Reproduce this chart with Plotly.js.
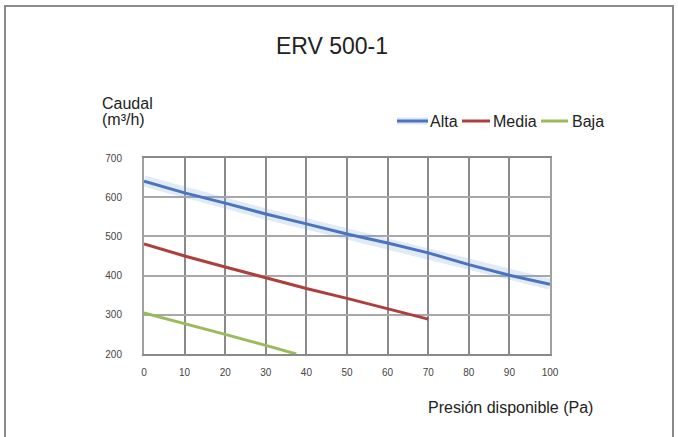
<!DOCTYPE html>
<html>
<head>
<meta charset="utf-8">
<script src="https://cdn.plot.ly/plotly-3.0.1.min.js"></script>
<style>
  html, body { margin: 0; padding: 0; background: #fff; overflow: hidden; }
  #frame { position: absolute; left: 4px; top: 5px; width: 666px; height: 500px;
           border: 2px solid #8a8a8a; pointer-events: none; z-index: 5; }
  #chart { position: absolute; left: 0; top: 0; width: 678px; height: 437px; }
</style>
</head>
<body>
<div id="chart"></div>
<div id="frame"></div>
<script>
// Presión disponible (Pa) vs Caudal (m³/h)
const pressureAlta  = [0, 10, 20, 30, 40, 50, 60, 70, 80, 90, 100];
const caudalAlta    = [641, 611, 585, 557, 532, 506, 483, 458, 428, 401, 378];
const pressureMedia = [0, 10, 20, 30, 40, 50, 60, 70];
const caudalMedia   = [481, 450, 422, 394, 367, 342, 316, 289];
const pressureBaja  = [0, 10, 20, 30, 37.5];
const caudalBaja    = [305, 278, 250, 222, 200];
const xTicks = [0, 10, 20, 30, 40, 50, 60, 70, 80, 90, 100];
const yTicks = [200, 300, 400, 500, 600, 700];
const seriesNames  = ['Alta', 'Media', 'Baja'];
const seriesColors = ['#4a74bd', '#ad3f3c', '#9bbb59'];

const FONT = '"Liberation Sans", Arial, sans-serif';

// plot area in pixels
const PL = 144, PR = 550, PT = 158, PB = 354;
const px = v => (v - PL) / (PR - PL);
const py = v => (PB - v) / (PB - PT);

const traces = [
  { x: pressureAlta, y: caudalAlta, mode: 'lines', showlegend: false, hoverinfo: 'skip',
    line: { color: 'rgba(120,160,220,0.22)', width: 11 } },
  { x: pressureAlta, y: caudalAlta, mode: 'lines', name: seriesNames[0],
    line: { color: seriesColors[0], width: 3 } },
  { x: pressureMedia, y: caudalMedia, mode: 'lines', name: seriesNames[1],
    line: { color: seriesColors[1], width: 3 } },
  { x: pressureBaja, y: caudalBaja, mode: 'lines', name: seriesNames[2],
    line: { color: seriesColors[2], width: 3 } }
];

// manual legend (keys + labels)
const legendKeys = [[397, 428, 430], [462, 490, 493], [541, 568, 572]];
const legendY = py(121);
const shapes = [];
const annotations = [];
legendKeys.forEach(([x0, x1, tx], i) => {
  if (i === 0) {
    shapes.push({ type: 'line', xref: 'paper', yref: 'paper', x0: px(x0), x1: px(x1), y0: legendY, y1: legendY,
                  line: { color: 'rgba(120,160,220,0.25)', width: 7 } });
  }
  shapes.push({ type: 'line', xref: 'paper', yref: 'paper', x0: px(x0), x1: px(x1), y0: legendY, y1: legendY,
                line: { color: seriesColors[i], width: 3 } });
  annotations.push({ text: seriesNames[i], xref: 'paper', yref: 'paper', x: px(tx - 2), y: legendY,
                     xanchor: 'left', yanchor: 'middle', showarrow: false,
                     font: { family: FONT, size: 16, color: '#222' } });
});

annotations.push(
  { text: 'Caudal', xref: 'paper', yref: 'paper', x: px(100), y: py(103),
    xanchor: 'left', yanchor: 'middle', showarrow: false, font: { family: FONT, size: 16, color: '#222' } },
  { text: '(m³/h)', xref: 'paper', yref: 'paper', x: px(100), y: py(120),
    xanchor: 'left', yanchor: 'middle', showarrow: false, font: { family: FONT, size: 16, color: '#222' } },
  { text: 'Presión disponible (Pa)', xref: 'paper', yref: 'paper', x: px(426), y: py(407),
    xanchor: 'left', yanchor: 'middle', showarrow: false, font: { family: FONT, size: 16, color: '#222' } }
);

const layout = {
  width: 678, height: 437,
  margin: { l: PL, r: 678 - PR, t: PT, b: 437 - PB },
  paper_bgcolor: '#ffffff', plot_bgcolor: '#ffffff',
  font: { family: FONT, color: '#222' },
  title: { text: 'ERV 500-1', font: { family: FONT, size: 23, color: '#222' },
           x: 332 / 678, xanchor: 'center', xref: 'container', y: 1 - 46/437, yanchor: 'middle', yref: 'container' },
  showlegend: false,
  xaxis: { range: [0, 100], tickvals: xTicks, ticktext: xTicks.map(String),
           showgrid: true, gridcolor: '#8a8a8a', gridwidth: 2,
           showline: true, linecolor: '#8a8a8a', linewidth: 2, mirror: true,
           zeroline: false, ticks: '', ticklabelstandoff: 8,
           tickfont: { family: FONT, size: 10, color: '#444' }, fixedrange: true },
  yaxis: { range: [200, 700], tickvals: yTicks, ticktext: yTicks.map(String),
           showgrid: true, gridcolor: '#a8a8a8', gridwidth: 2,
           showline: true, linecolor: '#a0a0a0', linewidth: 2, mirror: true,
           zeroline: false, ticks: '', ticklabelstandoff: 18,
           tickfont: { family: FONT, size: 10, color: '#444' }, fixedrange: true },
  shapes: shapes,
  annotations: annotations
};

Plotly.newPlot('chart', traces, layout, { displayModeBar: false, staticPlot: true });
</script>
</body>
</html>
